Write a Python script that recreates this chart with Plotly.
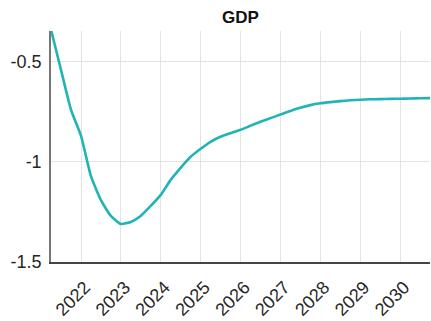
import pandas as pd
import plotly.graph_objects as go

# Quarterly GDP path (deviation), 2021Q2 - 2030Q4
quarters = pd.date_range("2021-04-01", periods=39, freq="QS")
gdp = [
    -0.34, -0.54, -0.74, -0.87, -1.07, -1.19, -1.27, -1.31,
    -1.30, -1.27, -1.22, -1.165, -1.09, -1.03, -0.975, -0.935,
    -0.90, -0.875, -0.857, -0.84, -0.82, -0.80, -0.782, -0.764,
    -0.746, -0.73, -0.717, -0.708, -0.702, -0.697, -0.693, -0.69,
    -0.688, -0.687, -0.686, -0.685, -0.684, -0.683, -0.682,
]

year_ticks = [str(y) for y in range(2022, 2031)]
y_ticks = [-1.5, -1, -0.5]
y_tick_text = ["-1.5", "-1", "-0.5"]

fig = go.Figure(
    go.Scatter(
        x=quarters,
        y=gdp,
        mode="lines",
        line=dict(color="#20b4b6", width=2.6, shape="spline", smoothing=0.5),
        hoverinfo="skip",
    )
)

font = "Liberation Sans, Arial, sans-serif"
fig.update_layout(
    width=431,
    height=321,
    margin=dict(l=51, r=1, t=31, b=59),
    paper_bgcolor="white",
    plot_bgcolor="white",
    showlegend=False,
    title=dict(
        text="<b>GDP</b>",
        x=(51 + 430) / 2 / 431,
        xanchor="center",
        y=1 - 17 / 321,
        yanchor="middle",
        font=dict(family=font, size=17, color="#111111"),
    ),
    font=dict(family=font, size=18, color="#262626"),
)
fig.update_xaxes(
    range=["2021-04-01", "2030-10-01"],
    tickvals=[f"{y}-01-01" for y in year_ticks],
    ticktext=year_ticks,
    tickangle=-45,
    ticklabelstandoff=6,
    ticklabelshift=4,
    showgrid=True,
    gridcolor="#e3e3e3",
    gridwidth=1,
    showline=True,
    linecolor="#444444",
    linewidth=1.5,
    ticks="",
    zeroline=False,
    mirror=False,
)
fig.update_yaxes(
    range=[-1.5, -0.347],
    tickvals=y_ticks,
    ticktext=y_tick_text,
    ticklabelstandoff=4,
    showgrid=True,
    gridcolor="#e3e3e3",
    gridwidth=1,
    showline=True,
    linecolor="#777777",
    linewidth=1.5,
    ticks="",
    zeroline=False,
)

fig.write_html("out.html")
